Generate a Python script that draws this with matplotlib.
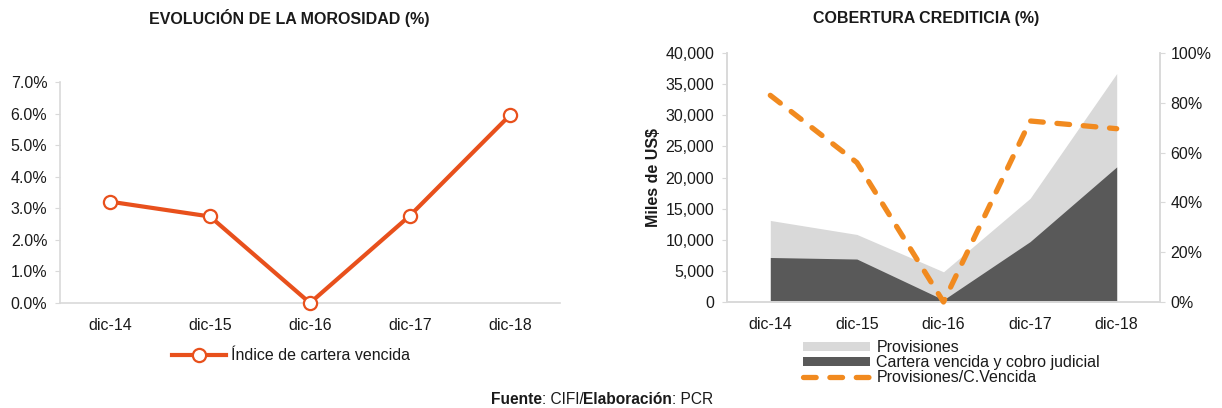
import matplotlib
matplotlib.use("Agg")
from matplotlib import pyplot as plt
from matplotlib.ticker import FuncFormatter, MultipleLocator
from matplotlib.patches import Patch
from matplotlib.lines import Line2D

plt.rcParams['font.family'] = ['Liberation Sans', 'DejaVu Sans']

# data
periods = ["dic-14", "dic-15", "dic-16", "dic-17", "dic-18"]
morosidad = [3.21, 2.74, 0.0, 2.77, 5.95]          # %
provisiones = [13100, 10850, 4850, 16650, 36700]    # miles de US$
cartera_vencida = [7150, 6900, 350, 9700, 21700]    # miles de US$
cobertura = [83, 56, 0, 72.7, 69.6]                 # %

ORANGE_RED = "#E8501C"
ORANGE = "#F18A1F"
LIGHT = "#D9D9D9"
DARK = "#595959"
SPINE = "#D9D9D9"
TXT = "#1A1A1A"
FS = 11.5
DASH = (0, (2.4, 2.6))

W, H = 1222, 408
fig = plt.figure(figsize=(W / 100, H / 100), dpi=100)


def box(x0, y_top, x1, y_bot):
    return [x0 / W, 1 - y_bot / H, (x1 - x0) / W, (y_bot - y_top) / H]


x = list(range(len(periods)))

# ---- left chart
ax1 = fig.add_axes(box(60, 82, 560, 303))
ax1.plot(x, morosidad, color=ORANGE_RED, lw=3.0, marker="o", ms=9.5,
         mfc="white", mec=ORANGE_RED, mew=1.6, zorder=3,
         label="Índice de cartera vencida", clip_on=False)
ax1.set_xlim(-0.5, 4.5)
ax1.set_ylim(0, 7)
ax1.yaxis.set_major_locator(MultipleLocator(1))
ax1.yaxis.set_major_formatter(FuncFormatter(lambda v, p: f"{v:.1f}%"))
ax1.set_xticks(x)
ax1.set_xticklabels(periods)
for s in ["top", "right"]:
    ax1.spines[s].set_visible(False)
for s in ["left", "bottom"]:
    ax1.spines[s].set_color(SPINE)
    ax1.spines[s].set_linewidth(1.2)
ax1.tick_params(axis="y", length=3.6, color=SPINE, labelsize=FS, labelcolor=TXT, pad=5.5)
ax1.tick_params(axis="x", length=0, labelsize=FS, labelcolor=TXT, pad=11)
fig.text(289 / W, 1 - 18 / H, "EVOLUCIÓN DE LA MOROSIDAD (%)", ha="center",
         va="center", fontsize=11.5, fontweight="bold", color=TXT)
ax1.legend(loc="center", bbox_to_anchor=(291 / W, 1 - 356 / H),
           bbox_transform=fig.transFigure, frameon=False, fontsize=FS,
           handlelength=3.4, handletextpad=0.3, labelcolor=TXT)

# ---- right chart
ax2 = fig.add_axes(box(727, 53, 1160, 302))
ax2.fill_between(x, provisiones, color=LIGHT, lw=0, zorder=1)
ax2.fill_between(x, cartera_vencida, color=DARK, lw=0, zorder=2)
ax2.set_xlim(-0.5, 4.5)
ax2.set_ylim(0, 40000)
ax2.yaxis.set_major_locator(MultipleLocator(5000))
ax2.yaxis.set_major_formatter(FuncFormatter(lambda v, p: f"{int(v):,}"))
ax2.set_xticks(x)
ax2.set_xticklabels(periods)
ax2.set_ylabel("Miles de US$", fontsize=FS, fontweight="bold", color=TXT, labelpad=3)

ax3 = ax2.twinx()
ax3.plot(x, cobertura, color=ORANGE, lw=3.8, ls=DASH,
         dash_capstyle="round", zorder=4, clip_on=False)
ax3.set_ylim(0, 100)
ax3.yaxis.set_major_locator(MultipleLocator(20))
ax3.yaxis.set_major_formatter(FuncFormatter(lambda v, p: f"{int(v)}%"))

for a in (ax2, ax3):
    a.spines["top"].set_visible(False)
    for s in ["left", "right", "bottom"]:
        a.spines[s].set_color(SPINE)
        a.spines[s].set_linewidth(1.2)
ax2.tick_params(axis="y", length=3.6, color=SPINE, labelsize=FS, labelcolor=TXT, pad=5.5)
ax2.tick_params(axis="x", length=0, labelsize=FS, labelcolor=TXT, pad=11)
ax3.tick_params(axis="y", length=3.6, color=SPINE, labelsize=FS, labelcolor=TXT, pad=4)

fig.text(926 / W, 1 - 18 / H, "COBERTURA CREDITICIA (%)", ha="center",
         va="center", fontsize=11.5, fontweight="bold", color=TXT)

handles = [
    Patch(facecolor=LIGHT, edgecolor="none", label="Provisiones"),
    Patch(facecolor=DARK, edgecolor="none", label="Cartera vencida y cobro judicial"),
    Line2D([], [], color=ORANGE, lw=3.8, ls=DASH, dash_capstyle="round",
           label="Provisiones/C.Vencida"),
]
fig.legend(handles=handles, loc="upper left", bbox_to_anchor=(795 / W, 1 - 332 / H),
           frameon=False, fontsize=FS, handlelength=4.2, handleheight=0.5,
           handletextpad=0.4, labelspacing=0.0, borderpad=0, labelcolor=TXT)

# ---- footer with mixed bold
parts = [("Fuente", "bold"), (": CIFI/", "normal"), ("Elaboración", "bold"), (": PCR", "normal")]
renderer = fig.canvas.get_renderer()
widths = []
texts = []
for s, w in parts:
    t = fig.text(0, 1 - 400 / H, s, fontsize=11.2, fontweight=w, color=TXT, va="center")
    texts.append(t)
    widths.append(t.get_window_extent(renderer).width)
xpos = 602 - sum(widths) / 2
for t, wd in zip(texts, widths):
    t.set_x(xpos / W)
    xpos += wd

fig.savefig("out.png", dpi=100)
